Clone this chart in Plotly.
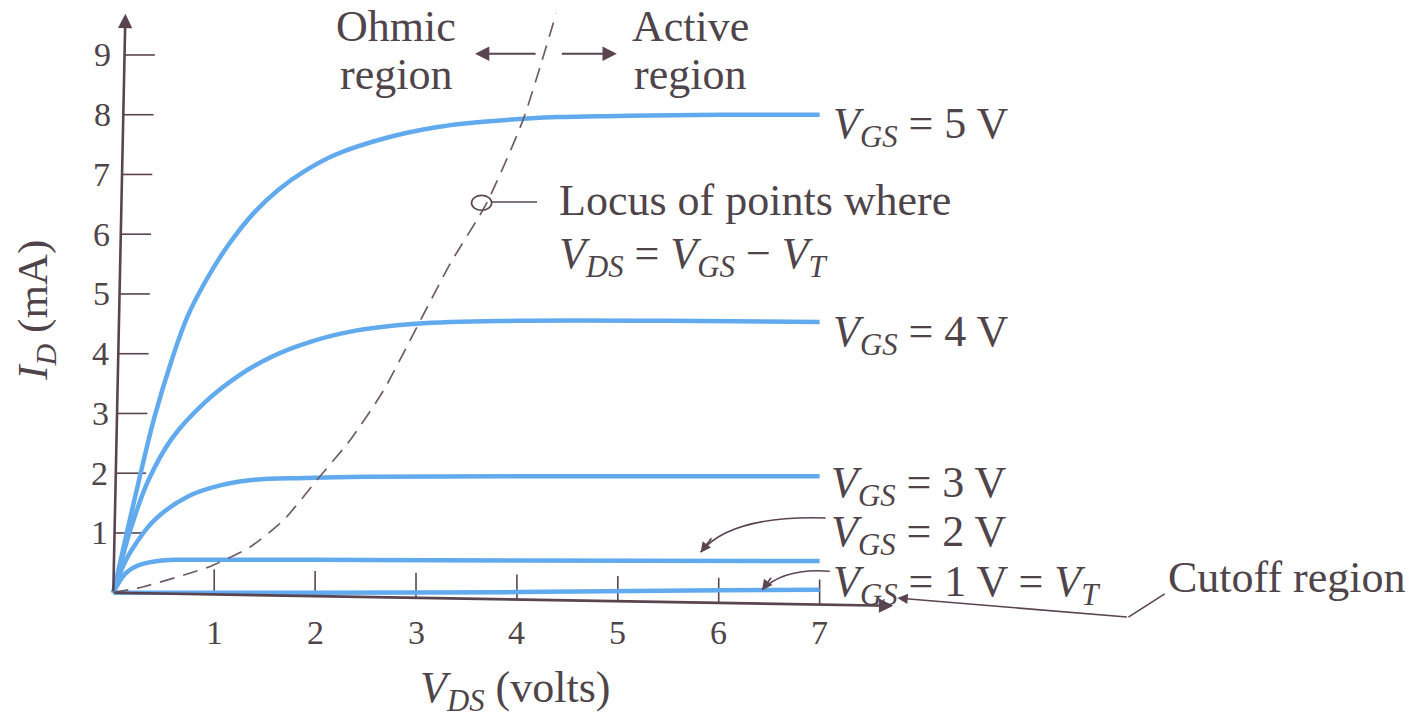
import plotly.graph_objects as go

# Drain characteristics of an n-channel enhancement MOSFET (V_T = 1 V)
vds_5 = [0, 0.12, 0.25, 0.41, 0.58, 0.74, 0.91, 1.14, 1.40, 1.64, 1.90, 2.20, 2.70, 3.20, 3.80, 4.40, 5.00, 6.00, 7.00]
id_5 = [0, 0.90, 1.85, 2.95, 3.90, 4.64, 5.20, 5.82, 6.37, 6.75, 7.06, 7.33, 7.61, 7.79, 7.90, 7.96, 7.98, 8.00, 8.00]

vds_4 = [0, 0.10, 0.18, 0.35, 0.58, 0.91, 1.24, 1.57, 1.90, 2.35, 3.00, 4.00, 5.50, 7.00]
id_4 = [0, 0.65, 1.11, 1.89, 2.58, 3.19, 3.63, 3.95, 4.17, 4.37, 4.50, 4.55, 4.55, 4.53]

vds_3 = [0, 0.08, 0.18, 0.41, 0.74, 1.07, 1.40, 1.90, 2.50, 4.33, 7.00]
id_3 = [0, 0.38, 0.71, 1.22, 1.61, 1.80, 1.89, 1.92, 1.94, 1.95, 1.95]

vds_2 = [0, 0.12, 0.25, 0.48, 0.80, 2.00, 4.00, 7.00]
id_2 = [0, 0.32, 0.46, 0.54, 0.55, 0.55, 0.54, 0.53]

vds_1 = [0, 2.00, 4.00, 6.00, 7.00]
id_1 = [0, 0.00, 0.01, 0.04, 0.05]

# Boundary between ohmic and active regions: V_DS = V_GS - V_T
locus_vds = [0, 0.30, 0.96, 1.36, 1.69, 2.02, 2.35, 2.68, 3.01, 3.34, 3.70, 4.06, 4.39]
locus_id = [0, 0.10, 0.44, 0.77, 1.22, 1.89, 2.56, 3.39, 4.45, 5.51, 6.52, 7.91, 9.70]

x_ticks = [1, 2, 3, 4, 5, 6, 7]
y_ticks = [1, 2, 3, 4, 5, 6, 7, 8, 9]

curve_labels = [
    "<i>V</i><sub><i>GS</i></sub> = 5 V",
    "<i>V</i><sub><i>GS</i></sub> = 4 V",
    "<i>V</i><sub><i>GS</i></sub> = 3 V",
    "<i>V</i><sub><i>GS</i></sub> = 2 V",
    "<i>V</i><sub><i>GS</i></sub> = 1 V = <i>V</i><sub><i>T</i></sub>",
]

BLUE = "#62aaee"
AXIS = "#5a4450"
TEXT = "#4e4449"
DASH = "#6e5c66"
FONT = "Liberation Serif, Times New Roman, serif"

# axis direction (slight tilt of the drawn axes)
X_TIP = (7.73, -0.22)
Y_TIP = (0.12, 9.69)


def x_axis_y(x):
    return X_TIP[1] * x / X_TIP[0]


def y_axis_x(y):
    return Y_TIP[0] * y / Y_TIP[1]


fig = go.Figure()

for xs, ys in [(vds_5, id_5), (vds_4, id_4), (vds_3, id_3), (vds_2, id_2), (vds_1, id_1)]:
    fig.add_trace(go.Scatter(
        x=xs, y=ys, mode="lines",
        line=dict(color=BLUE, width=4.5, shape="spline", smoothing=1.1),
        hoverinfo="skip", showlegend=False,
    ))

fig.add_trace(go.Scatter(
    x=locus_vds, y=locus_id, mode="lines",
    line=dict(color=DASH, width=1.7, dash="15px,9px", shape="spline", smoothing=0.6),
    hoverinfo="skip", showlegend=False,
))

shapes = []
annotations = []

# axes with arrowheads
for tip in (X_TIP, Y_TIP):
    annotations.append(dict(
        x=tip[0], y=tip[1], ax=0, ay=0, xref="x", yref="y", axref="x", ayref="y",
        text="", showarrow=True, arrowhead=2, arrowsize=1.1, arrowwidth=2.6,
        arrowcolor=AXIS, standoff=0,
    ))

# tick marks and tick labels
for t in x_ticks:
    y0 = x_axis_y(t)
    shapes.append(dict(type="line", x0=t, x1=t, y0=y0, y1=y0 + 0.42,
                       line=dict(color=AXIS, width=1.6), layer="below"))
    annotations.append(dict(x=t, y=-0.66, text=str(t), showarrow=False,
                            font=dict(size=34, color=TEXT, family=FONT)))
for t in y_ticks:
    x0 = y_axis_x(t)
    shapes.append(dict(type="line", x0=x0, x1=x0 + 0.30, y0=t, y1=t,
                       line=dict(color=AXIS, width=1.6), layer="below"))
    annotations.append(dict(x=-0.14 + x0 * 0.3, y=t, text=str(t), showarrow=False,
                            font=dict(size=34, color=TEXT, family=FONT)))

# axis titles
annotations.append(dict(x=-0.77, y=4.73, text="<i>I</i><sub><i>D</i></sub> (mA)",
                        textangle=-90, showarrow=False,
                        font=dict(size=43, color=TEXT, family=FONT)))
annotations.append(dict(x=3.98, y=-1.63, text="<i>V</i><sub><i>DS</i></sub> (volts)",
                        showarrow=False, font=dict(size=44, color=TEXT, family=FONT)))

# curve labels
label_y = [7.80, 4.32, 1.80, 0.98, 0.14]
label_x = [7.11, 7.11, 7.09, 7.09, 7.11]
for txt, lx, ly in zip(curve_labels, label_x, label_y):
    annotations.append(dict(x=lx, y=ly, text=txt, xanchor="left", yanchor="middle",
                            showarrow=False, font=dict(size=44, color=TEXT, family=FONT)))

annotations.append(dict(x=10.43, y=0.25, text="Cutoff region", xanchor="left",
                        showarrow=False, font=dict(size=44, color=TEXT, family=FONT)))

# region labels
for txt, x, y in [("Ohmic", 2.80, 9.47), ("region", 2.80, 8.68),
                  ("Active", 5.72, 9.47), ("region", 5.72, 8.68)]:
    annotations.append(dict(x=x, y=y, text=txt, showarrow=False,
                            font=dict(size=44, color=TEXT, family=FONT)))
for tip, tail in [((3.585, 9.02), (4.20, 9.02)), ((4.99, 9.02), (4.43, 9.02))]:
    annotations.append(dict(x=tip[0], y=tip[1], ax=tail[0], ay=tail[1],
                            xref="x", yref="y", axref="x", ayref="y", text="",
                            showarrow=True, arrowhead=2, arrowsize=1.3, arrowwidth=2.2,
                            arrowcolor=AXIS, standoff=0))

# locus callout
shapes.append(dict(type="circle", x0=3.55, x1=3.75, y0=6.40, y1=6.65,
                   line=dict(color=AXIS, width=1.6)))
shapes.append(dict(type="line", x0=3.75, x1=4.20, y0=6.54, y1=6.54,
                   line=dict(color=AXIS, width=1.6)))
annotations.append(dict(x=4.40, y=6.57, text="Locus of points where", xanchor="left",
                        showarrow=False, font=dict(size=44, color=TEXT, family=FONT)))
annotations.append(dict(x=4.40, y=5.62,
                        text="<i>V</i><sub><i>DS</i></sub> = <i>V</i><sub><i>GS</i></sub> \u2212 <i>V</i><sub><i>T</i></sub>",
                        xanchor="left", showarrow=False,
                        font=dict(size=44, color=TEXT, family=FONT)))

# curved pointers to the V_GS = 2 V and 1 V curves
shapes.append(dict(type="path", path="M 7.06,1.25 Q 6.12,1.30 5.82,0.68",
                   line=dict(color=AXIS, width=1.6)))
annotations.append(dict(x=5.82, y=0.67, ax=12, ay=-16, text="", showarrow=True,
                        arrowhead=2, arrowsize=1.3, arrowwidth=1.6, arrowcolor=AXIS,
                        standoff=0))
shapes.append(dict(type="path", path="M 7.10,0.36 Q 6.65,0.42 6.43,0.05",
                   line=dict(color=AXIS, width=1.6)))
annotations.append(dict(x=6.43, y=0.04, ax=10, ay=-14, text="", showarrow=True,
                        arrowhead=2, arrowsize=1.3, arrowwidth=1.6, arrowcolor=AXIS,
                        standoff=0))

# cutoff-region pointer
shapes.append(dict(type="line", x0=10.42, x1=10.06, y0=-0.02, y1=-0.41,
                   line=dict(color=AXIS, width=1.6)))
annotations.append(dict(x=7.77, y=-0.09, ax=10.06, ay=-0.41, xref="x", yref="y",
                        axref="x", ayref="y", text="", showarrow=True, arrowhead=2,
                        arrowsize=1.3, arrowwidth=1.6, arrowcolor=AXIS, standoff=0))

fig.update_layout(
    width=1420, height=718,
    margin=dict(l=0, r=0, t=0, b=0),
    paper_bgcolor="white", plot_bgcolor="white",
    xaxis=dict(range=[-1.1229, 12.950], visible=False, fixedrange=True),
    yaxis=dict(range=[-2.097, 9.920], visible=False, fixedrange=True),
    shapes=shapes, annotations=annotations,
)

fig.write_html("out.html")
